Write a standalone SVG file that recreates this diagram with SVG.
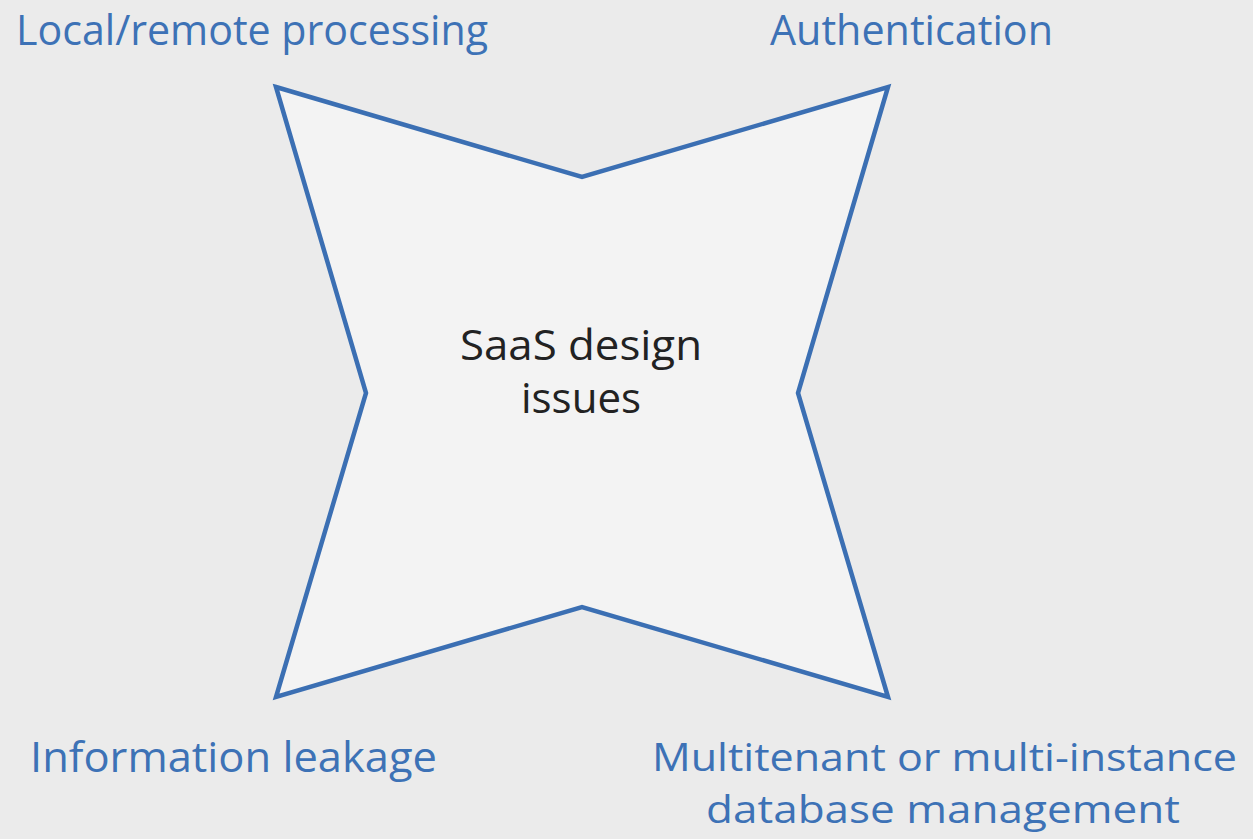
<svg xmlns="http://www.w3.org/2000/svg" width="1253" height="839" viewBox="0 0 1253 839">
<style>
.lbl{font-family:"Open Sans","Liberation Sans",sans-serif;font-size:42px;fill:#3d72b6}
.lbl2{font-size:38px}
.ctr{font-family:"Open Sans","Liberation Sans",sans-serif;font-size:42px;fill:#222222;text-anchor:middle}
.star{fill:#f3f3f3;stroke:#3b6fb3;stroke-width:4.5;stroke-linejoin:miter}
</style>
<rect x="0" y="0" width="1253" height="839" fill="#ebebeb"/>
<g id="star">
<polygon class="star" points="276,87 582,177 888,87 798,393 888,697 582,607 276,697 366,393"/>
<text class="ctr"><tspan x="581" y="360" textLength="242" lengthAdjust="spacingAndGlyphs">SaaS design</tspan><tspan x="581" y="413" textLength="120" lengthAdjust="spacingAndGlyphs">issues</tspan></text>
</g>
<g id="label-local"><text class="lbl" x="16" y="45" textLength="472" lengthAdjust="spacingAndGlyphs">Local/remote processing</text></g>
<g id="label-auth"><text class="lbl" x="770" y="45" textLength="283" lengthAdjust="spacingAndGlyphs">Authentication</text></g>
<g id="label-info"><text class="lbl" x="30" y="772" textLength="407" lengthAdjust="spacingAndGlyphs">Information leakage</text></g>
<g id="label-multi">
<text class="lbl lbl2" x="652" y="771" textLength="585" lengthAdjust="spacingAndGlyphs">Multitenant or multi-instance</text>
<text class="lbl lbl2" x="706" y="823" textLength="474" lengthAdjust="spacingAndGlyphs">database management</text>
</g>
<g id="connectors"></g>
</svg>
